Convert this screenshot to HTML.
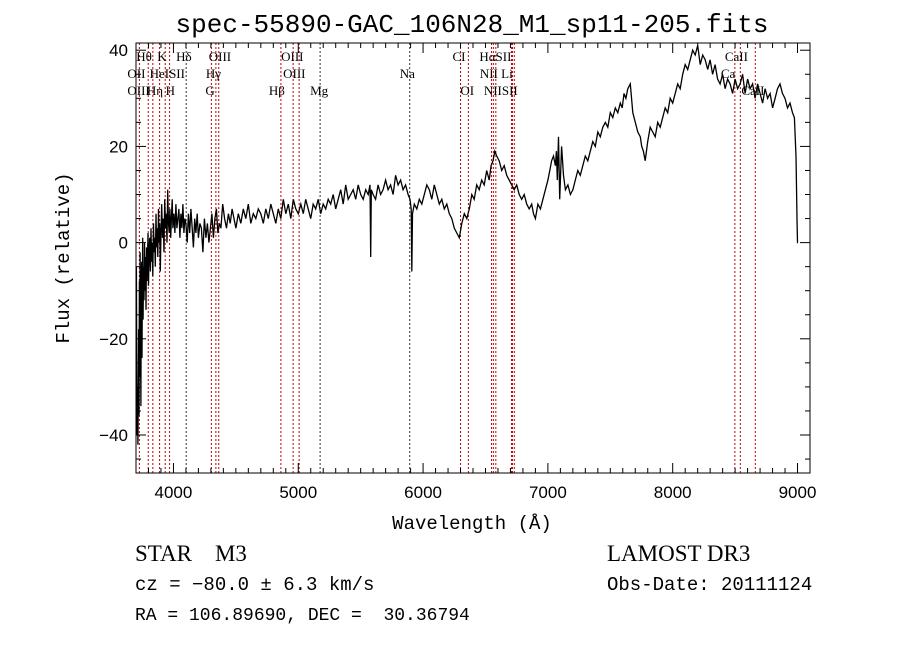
<!DOCTYPE html>
<html><head><meta charset="utf-8"><style>
html,body{margin:0;padding:0;background:#fff;}
svg{display:block;}
text{fill:#000;}
</style></head><body>
<svg id="chart" width="900" height="649" viewBox="0 0 900 649" xmlns="http://www.w3.org/2000/svg">
<rect x="0" y="0" width="900" height="649" fill="#fff"/>
<text x="472" y="32" text-anchor="middle" font-family="Liberation Mono, monospace" font-size="26">spec-55890-GAC_106N28_M1_sp11-205.fits</text>
<g id="lines"></g>
<g id="labels" font-family="Liberation Serif, serif" font-size="13"></g>
<g id="series"></g>
<rect x="136" y="43" width="674" height="430" fill="none" stroke="#000" stroke-width="1"/>
<g id="axes"></g>
<text transform="translate(69,258) rotate(-90)" text-anchor="middle" font-family="Liberation Mono, monospace" font-size="19">Flux (relative)</text>
<text x="472" y="529" text-anchor="middle" font-family="Liberation Mono, monospace" font-size="19">Wavelength (Å)</text>
<text x="135" y="561" font-family="Liberation Serif, serif" font-size="23">STAR&#160;&#160;&#160;&#160;M3</text>
<text x="135" y="590" font-family="Liberation Mono, monospace" font-size="19">cz = −80.0 ± 6.3 km/s</text>
<text x="135" y="620" font-family="Liberation Mono, monospace" font-size="18">RA = 106.89690, DEC =&#160; 30.36794</text>
<text x="607" y="561" font-family="Liberation Serif, serif" font-size="23">LAMOST DR3</text>
<text x="607" y="590" font-family="Liberation Mono, monospace" font-size="19">Obs-Date: 20111124</text>
</svg>
<script>
const wavelengths=[3703,3706,3709,3712,3715,3718,3721,3724,3727,3730,3733,3736,3739,3742,3745,3748,3751,3754,3757,3760,3764,3768,3772,3776,3780,3784,3788,3792,3796,3800,3805,3810,3815,3820,3825,3830,3835,3840,3845,3850,3855,3860,3865,3870,3875,3880,3885,3890,3895,3900,3906,3912,3918,3924,3930,3936,3942,3948,3954,3960,3966,3972,3978,3984,3990,3996,4004,4012,4020,4028,4036,4044,4052,4060,4068,4076,4084,4092,4100,4110,4120,4130,4140,4150,4160,4170,4180,4190,4200,4212,4224,4236,4248,4260,4272,4284,4296,4308,4320,4332,4344,4356,4368,4380,4395,4410,4425,4440,4455,4470,4485,4500,4520,4540,4560,4580,4600,4620,4640,4660,4680,4700,4720,4740,4760,4780,4800,4820,4840,4860,4880,4900,4920,4940,4960,4980,5000,5020,5040,5060,5080,5100,5120,5140,5160,5180,5200,5220,5240,5260,5280,5300,5320,5340,5360,5380,5400,5420,5440,5460,5480,5500,5520,5540,5560,5575,5580,5585,5600,5620,5640,5660,5680,5700,5720,5740,5760,5780,5800,5820,5840,5860,5880,5895,5905,5910,5915,5930,5950,5970,5990,6010,6030,6050,6070,6090,6110,6130,6150,6170,6190,6210,6230,6250,6270,6290,6310,6330,6350,6370,6390,6410,6430,6450,6470,6490,6510,6530,6545,6560,6575,6590,6610,6630,6650,6670,6690,6710,6730,6750,6770,6790,6810,6830,6850,6870,6885,6900,6920,6940,6960,6980,7000,7015,7030,7045,7060,7068,7075,7085,7095,7110,7125,7140,7160,7180,7200,7220,7240,7260,7280,7300,7320,7340,7360,7380,7400,7420,7440,7460,7480,7500,7520,7540,7560,7580,7595,7610,7625,7640,7660,7680,7700,7720,7740,7752,7765,7780,7800,7820,7840,7860,7880,7900,7920,7940,7960,7980,8000,8020,8040,8060,8080,8100,8120,8140,8160,8180,8200,8220,8240,8260,8280,8300,8320,8340,8360,8380,8400,8420,8440,8460,8480,8500,8520,8540,8560,8580,8600,8620,8640,8660,8680,8700,8720,8740,8760,8780,8800,8820,8840,8860,8880,8900,8920,8940,8960,8975,8988,8996,9000,9002,9004];
const fluxes=[-5,-22,-40,-30,-42,-34,-18,-36,-8,-28,-2,-20,-34,-12,-4,-24,-8,1,-16,-5,-12,0,-10,-3,-14,-1,-8,-4,2,-9,-2,1,-6,3,-4,0,-7,4,-2,1,-5,6,-1,3,-3,7,0,4,-6,2,8,1,5,-2,9,3,6,0,11,4,2,7,1,5,9,3,6,2,8,3,5,7,1,6,3,8,2,5,4,0,6,2,7,3,-1,5,2,6,1,4,3,-2,5,1,4,0,3,6,1,5,7,2,4,3,8,5,3,6,4,7,5,3,6,4,7,5,8,4,6,5,7,6,4,7,5,8,6,4,7,5,9,6,8,5,9,7,6,8,6,9,7,5,8,7,9,6,8,7,9,8,10,7,9,11,8,12,9,10,11,9,12,10,9,11,10,12,-3,11,10,9,12,10,11,13,11,12,10,14,12,13,11,12,10,9,7,-6,6,8,7,9,8,10,12,11,9,12,10,8,9,7,8,6,5,3,2,1,4,6,5,7,10,9,12,11,13,12,15,13,16,17,19,18,17,15,16,14,13,12,11,12,10,9,10,8,7,8,6,5,8,7,9,11,13,15,17,18,16,19,13,22,9,20,14,11,12,10,11,13,15,14,16,18,17,19,21,20,23,22,24,25,24,27,26,28,27,29,28,31,30,32,33,27,25,23,22,20,19,17,21,24,23,22,25,24,26,28,27,30,29,31,33,32,35,37,36,38,40,39,41,37,39,38,36,38,35,37,34,33,35,32,34,33,31,34,32,33,35,31,34,32,33,30,33,31,29,32,30,31,28,30,32,33,31,30,28,29,27,26,18,5,0,0];
const xTicks=[4000,5000,6000,7000,8000,9000];
const yTicks=[-40,-20,0,20,40];
const lineWaves=[3727,3798,3835,3889,3934,3969,4102,4304,4340,4363,4861,4959,5007,5175,5893,6300,6363,6548,6563,6583,6708,6716,6731,8498,8542,8662];
const lineKinds=['r','r','r','r','r','r','k','r','r','r','r','r','r','k','k','r','r','r','r','r','r','r','r','r','r','r'];
const labelText=['Hθ','K','Hδ','OIII','OIII','CI','HαSII','CaII','OII','HeISII','Hγ','OIII','Na','NII Li','Ca','OIII','Hη','H','G','Hβ','Mg','OI','NIISII','CaII'];
const labelWave=[3798,3934,4102,4363,4959,6300,6563,8498,3727,3889,4340,5007,5893,6583,8498,3727,3835,3969,4304,4861,5175,6363,6583,8662];
const labelRow=[0,0,0,0,0,0,0,0,1,1,1,1,1,1,1,2,2,2,2,2,2,2,2,2];
const labelDx=[-12,-8,-10,-10,-12,-8,-14,-10,-12,-10,-10,-16,-10,-16,-14,-12,-6,-4,-6,-12,-10,-8,-12,-14];

const X0=136,X1=810,Y0=43,Y1=473,WMIN=3700,WMAX=9100,FMIN=-47.9,FMAX=41.5;
function xs(w){return X0+(w-WMIN)/(WMAX-WMIN)*(X1-X0);}
function ys(f){return Y1-(f-FMIN)/(FMAX-FMIN)*(Y1-Y0);}
const NS='http://www.w3.org/2000/svg';
function mk(tag,attrs,parent){const e=document.createElementNS(NS,tag);for(const k in attrs)e.setAttribute(k,attrs[k]);parent.appendChild(e);return e;}

const gl=document.getElementById('lines');
lineWaves.forEach((w,i)=>{
  const x=xs(w);
  const l=mk('line',{x1:x,x2:x,y1:Y0,y2:Y1,stroke:lineKinds[i]==='r'?'#c00000':'#333','stroke-width':1,'stroke-dasharray':'2,2'},gl);
  
  
});
const glab=document.getElementById('labels');
labelText.forEach((t,i)=>{
  const e=mk('text',{x:xs(labelWave[i])+labelDx[i],y:61+labelRow[i]*17},glab);
  e.textContent=t;
  
  
});
const gs=document.getElementById('series');
let d='';
wavelengths.forEach((w,i)=>{d+=(i?'L':'M')+xs(w).toFixed(1)+','+ys(fluxes[i]).toFixed(1);});
const p=mk('path',{d:d,fill:'none',stroke:'#000','stroke-width':1.3,'stroke-linejoin':'miter'},gs);



const ga=document.getElementById('axes');
for(let w=3800;w<=9100;w+=100){
  const x=xs(w),major=w%1000===0,len=major?10:5;
  mk('line',{x1:x,x2:x,y1:Y1,y2:Y1-len,stroke:'#000'},ga);
  mk('line',{x1:x,x2:x,y1:Y0,y2:Y0+len,stroke:'#000'},ga);
}
for(let f=-45;f<=40;f+=5){
  const y=ys(f),major=f%20===0,len=major?10:5;
  mk('line',{x1:X0,x2:X0+len,y1:y,y2:y,stroke:'#000'},ga);
  mk('line',{x1:X1,x2:X1-len,y1:y,y2:y,stroke:'#000'},ga);
}
xTicks.forEach(w=>{
  const t=mk('text',{x:xs(w),y:Y1+25,'text-anchor':'middle','font-family':'Liberation Sans, sans-serif','font-size':17},ga);
  t.textContent=w;
  
  
});
yTicks.forEach(f=>{
  const t=mk('text',{x:X0-8,y:ys(f)+6,'text-anchor':'end','font-family':'Liberation Sans, sans-serif','font-size':17},ga);
  t.textContent=f<0?'−'+Math.abs(f):f;
  
  
});
</script>
</body></html>
